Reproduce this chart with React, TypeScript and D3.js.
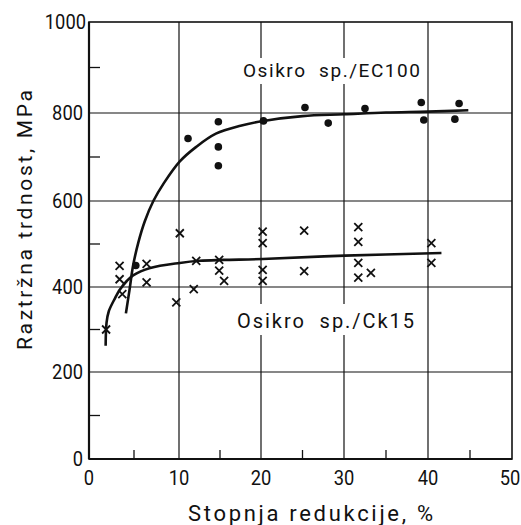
import React from "react";
import * as d3 from "d3";

// ---- data ----
const xTicks = [0, 10, 20, 30, 40, 50];
const xMinorTicks = [5, 15, 25, 35, 45];
const yTicks = [0, 200, 400, 600, 800, 1000];
const yMinorTicks = [100, 300, 500, 700, 900];
const xGrid = [10, 20, 30, 40];
const yGrid = [200, 400, 600, 800];

const ec100X = [5.2, 11.1, 14.8, 14.8, 14.8, 20.3, 25.3, 28.1, 32.5, 39.2, 39.5, 43.7, 43.2];
const ec100Y = [450, 742, 780, 723, 680, 782, 812, 777, 810, 823, 784, 821, 786];

const ck15X = [1.9, 3.4, 3.4, 3.7, 6.4, 6.4, 9.7, 10.1, 11.8, 12.1, 14.9, 14.9, 15.5, 20.2, 20.2, 20.2, 20.2, 25.2, 25.2, 31.7, 31.7, 31.7, 31.7, 33.2, 40.4, 40.4];
const ck15Y = [300, 449, 418, 383, 454, 411, 364, 525, 395, 461, 463, 438, 414, 529, 502, 440, 414, 531, 437, 539, 505, 456, 422, 433, 502, 456];

const ec100FitX = [4.1, 4.5, 4.9, 5.5, 6.2, 7.15, 8.3, 10.1, 12.1, 14.5, 17.5, 20.3, 25, 30, 35, 40, 44.8];
const ec100FitY = [338, 393, 450, 505, 553, 600, 640, 690, 723, 753, 771, 782, 793, 797, 801, 803, 806];

const ck15FitX = [1.85, 1.95, 2.2, 2.9, 3.4, 4.2, 4.9, 6.8, 10.1, 12.5, 15.4, 20.2, 30.1, 41.6];
const ck15FitY = [262, 316, 343, 374, 393, 414, 427, 444, 456, 461, 463, 465, 473, 479];

const labelEC = "Osikro  sp./EC100";
const labelCk = "Osikro  sp./Ck15";
const xTitle = "Stopnja redukcije, %";
const yTitle = "Raztržna trdnost, MPa";

export default function App() {
  const W = 521, H = 525;
  const x = d3.scaleLinear().domain([0, 10, 20, 30, 40, 50]).range([89, 179, 261, 344, 428, 512]);
  const y = d3.scaleLinear().domain([0, 200, 400, 600, 800, 1000]).range([459, 372, 287, 201, 113, 22]);

  const line = d3
    .line<[number, number]>()
    .x((d) => x(d[0]))
    .y((d) => y(d[1]))
    .curve(d3.curveCatmullRom.alpha(0.5));

  const ecFit = line(ec100FitX.map((v, i) => [v, ec100FitY[i]]));
  const ckFit = line(ck15FitX.map((v, i) => [v, ck15FitY[i]]));

  const font = "Roboto, 'DejaVu Sans', sans-serif";
  const ink = "#111";

  return (
    <svg width={W} height={H} style={{ position: "absolute", left: 0, top: 0, background: "#fff" }}>
      <rect x={0} y={0} width={W} height={H} fill="#fff" />
      {/* grid */}
      {xGrid.map((v) => (
        <line key={"gx" + v} x1={x(v)} x2={x(v)} y1={y(0)} y2={y(1000)} stroke={ink} strokeWidth={1.2} />
      ))}
      {yGrid.map((v) => (
        <line key={"gy" + v} x1={x(0)} x2={x(50)} y1={y(v)} y2={y(v)} stroke={ink} strokeWidth={1.2} />
      ))}
      {/* minor ticks */}
      {yMinorTicks.map((v) => (
        <line key={"my" + v} x1={x(0)} x2={x(0) + 11} y1={y(v)} y2={y(v)} stroke={ink} strokeWidth={1.3} />
      ))}
      {xMinorTicks.map((v) => (
        <line key={"mx" + v} x1={x(v)} x2={x(v)} y1={y(0)} y2={y(0) - 9} stroke={ink} strokeWidth={1.3} />
      ))}

      {/* annotation backgrounds */}
      <rect x={238} y={58} width={186} height={26} fill="#fff" />
      <rect x={232} y={304} width={186} height={31} fill="#fff" />

      {/* frame */}
      <rect x={x(0)} y={y(1000)} width={x(50) - x(0)} height={y(0) - y(1000)} fill="none" stroke={ink} strokeWidth={1.6} />
      <line x1={x(0)} x2={x(0)} y1={y(0)} y2={y(1000)} stroke={ink} strokeWidth={2.2} />
      <line x1={x(0)} x2={x(50)} y1={y(0)} y2={y(0)} stroke={ink} strokeWidth={2.2} />

      {/* fits */}
      <path d={ecFit ?? ""} fill="none" stroke={ink} strokeWidth={2.6} />
      <path d={ckFit ?? ""} fill="none" stroke={ink} strokeWidth={2.6} />

      {/* points */}
      {ec100X.map((v, i) => (
        <circle key={"e" + i} cx={x(v)} cy={y(ec100Y[i])} r={3.8} fill={ink} />
      ))}
      {ck15X.map((v, i) => {
        const cx = x(v), cy = y(ck15Y[i]), s = 4;
        return (
          <path
            key={"c" + i}
            d={`M${cx - s},${cy - s}L${cx + s},${cy + s}M${cx - s},${cy + s}L${cx + s},${cy - s}`}
            stroke={ink}
            strokeWidth={1.8}
          />
        );
      })}

      {/* tick labels */}
      {yTicks.map((v) => {
        const s = String(v);
        return (
          <text
            key={"ty" + v}
            x={v === 1000 ? 86 : 83}
            y={y(v)}
            dy="0.36em"
            textAnchor="end"
            fontFamily={font}
            fontSize={20}
            fill={ink}
            textLength={s.length * 10.3}
            lengthAdjust="spacingAndGlyphs"
          >
            {s}
          </text>
        );
      })}
      {xTicks.map((v) => {
        const s = String(v);
        return (
          <text
            key={"tx" + v}
            x={v === 50 ? x(v) - 2 : x(v)}
            y={485}
            textAnchor="middle"
            fontFamily={font}
            fontSize={20}
            fill={ink}
            textLength={s.length * 10.3}
            lengthAdjust="spacingAndGlyphs"
          >
            {s}
          </text>
        );
      })}

      {/* annotations */}
      <text x={243} y={77} fontFamily={font} fontSize={19} fill={ink} textLength={177} lengthAdjust="spacing" style={{ whiteSpace: "pre" }}>
        {labelEC}
      </text>
      <text x={237} y={328} fontFamily={font} fontSize={20} fill={ink} textLength={177} lengthAdjust="spacing" style={{ whiteSpace: "pre" }}>
        {labelCk}
      </text>

      {/* axis titles */}
      <text x={188} y={521} fontFamily={font} fontSize={22} fill={ink} textLength={245} lengthAdjust="spacing">
        {xTitle}
      </text>
      <text
        transform={`translate(32,350) rotate(-90)`}
        x={0}
        y={0}
        fontFamily={font}
        fontSize={21}
        fill={ink}
        textLength={260}
        lengthAdjust="spacing"
      >
        {yTitle}
      </text>
    </svg>
  );
}
